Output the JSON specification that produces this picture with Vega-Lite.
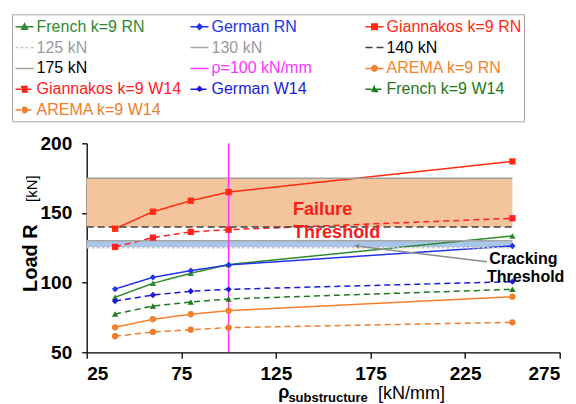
{
  "$schema": "https://vega.github.io/schema/vega-lite/v6.json",
  "width": 473,
  "height": 209,
  "autosize": "none",
  "padding": {"left": 86.7, "top": 143.3, "right": 16.3, "bottom": 51.7},
  "config": {
    "view": {"stroke": null},
    "font": "Liberation Sans",
    "axis": {"grid": false, "domainColor": "#000", "domainWidth": 1.3, "tickColor": "#000", "tickWidth": 1.3, "tickSize": 5, "labelFont": "Liberation Sans", "labelFontSize": 19, "labelFontWeight": "bold", "labelColor": "#000", "title": null}
  },
  "datasets": {
    "lines": [
      {"series": "French k=9 RN", "kind": "data", "x": 40, "y": 89.5},
      {"series": "French k=9 RN", "kind": "data", "x": 60, "y": 99.5},
      {"series": "French k=9 RN", "kind": "data", "x": 80, "y": 106.7},
      {"series": "French k=9 RN", "kind": "data", "x": 100, "y": 113},
      {"series": "French k=9 RN", "kind": "data", "x": 250, "y": 133.5},
      {"series": "German RN", "kind": "data", "x": 40, "y": 95.4},
      {"series": "German RN", "kind": "data", "x": 60, "y": 103.8},
      {"series": "German RN", "kind": "data", "x": 80, "y": 108.6},
      {"series": "German RN", "kind": "data", "x": 100, "y": 112.7},
      {"series": "German RN", "kind": "data", "x": 250, "y": 126.3},
      {"series": "Giannakos k=9 RN", "kind": "data", "x": 40, "y": 138.7},
      {"series": "Giannakos k=9 RN", "kind": "data", "x": 60, "y": 150.9},
      {"series": "Giannakos k=9 RN", "kind": "data", "x": 80, "y": 158.8},
      {"series": "Giannakos k=9 RN", "kind": "data", "x": 100, "y": 165},
      {"series": "Giannakos k=9 RN", "kind": "data", "x": 250, "y": 187},
      {"series": "AREMA k=9 RN", "kind": "data", "x": 40, "y": 67.9},
      {"series": "AREMA k=9 RN", "kind": "data", "x": 60, "y": 73.7},
      {"series": "AREMA k=9 RN", "kind": "data", "x": 80, "y": 77.3},
      {"series": "AREMA k=9 RN", "kind": "data", "x": 100, "y": 79.9},
      {"series": "AREMA k=9 RN", "kind": "data", "x": 250, "y": 89.9},
      {"series": "Giannakos k=9 W14", "kind": "data", "x": 40, "y": 125.6},
      {"series": "Giannakos k=9 W14", "kind": "data", "x": 60, "y": 132.3},
      {"series": "Giannakos k=9 W14", "kind": "data", "x": 80, "y": 136.4},
      {"series": "Giannakos k=9 W14", "kind": "data", "x": 100, "y": 138},
      {"series": "Giannakos k=9 W14", "kind": "data", "x": 250, "y": 146.2},
      {"series": "German W14", "kind": "data", "x": 40, "y": 86.8},
      {"series": "German W14", "kind": "data", "x": 60, "y": 91.1},
      {"series": "German W14", "kind": "data", "x": 80, "y": 93.8},
      {"series": "German W14", "kind": "data", "x": 100, "y": 95.2},
      {"series": "German W14", "kind": "data", "x": 250, "y": 100.7},
      {"series": "French k=9 W14", "kind": "data", "x": 40, "y": 77.5},
      {"series": "French k=9 W14", "kind": "data", "x": 60, "y": 83.2},
      {"series": "French k=9 W14", "kind": "data", "x": 80, "y": 86.1},
      {"series": "French k=9 W14", "kind": "data", "x": 100, "y": 88.3},
      {"series": "French k=9 W14", "kind": "data", "x": 250, "y": 95.2},
      {"series": "AREMA k=9 W14", "kind": "data", "x": 40, "y": 61.5},
      {"series": "AREMA k=9 W14", "kind": "data", "x": 60, "y": 64.6},
      {"series": "AREMA k=9 W14", "kind": "data", "x": 80, "y": 66.2},
      {"series": "AREMA k=9 W14", "kind": "data", "x": 100, "y": 67.7},
      {"series": "AREMA k=9 W14", "kind": "data", "x": 250, "y": 71.5},
      {"series": "125 kN", "kind": "ref", "x": 25, "y": 125},
      {"series": "125 kN", "kind": "ref", "x": 250, "y": 125},
      {"series": "130 kN", "kind": "ref", "x": 25, "y": 130},
      {"series": "130 kN", "kind": "ref", "x": 250, "y": 130},
      {"series": "140 kN", "kind": "ref", "x": 25, "y": 140},
      {"series": "140 kN", "kind": "ref", "x": 250, "y": 140},
      {"series": "175 kN", "kind": "ref", "x": 25, "y": 175},
      {"series": "175 kN", "kind": "ref", "x": 250, "y": 175},
      {"series": "ρ=100 kN/mm", "kind": "ref", "x": 100, "y": 50},
      {"series": "ρ=100 kN/mm", "kind": "ref", "x": 100, "y": 200}
    ],
    "bands": [
      {"x": 25, "x2": 250, "y": 140, "y2": 175, "band": "failure"},
      {"x": 25, "x2": 250, "y": 125.5, "y2": 130, "band": "cracking"}
    ],
    "labels": [
      {"x": 134.1, "y": 148.6, "text": "Failure", "group": "fail"},
      {"x": 134.1, "y": 131.8, "text": "Threshold", "group": "fail"},
      {"x": 237.7, "y": 113.4, "text": "Cracking", "group": "crack"},
      {"x": 236.6, "y": 100.7, "text": "Threshold", "group": "crack"}
    ],
    "arrow": [
      {"x": 236.5, "y": 115, "x2": 167.6, "y2": 126.3}
    ]
  },
  "layer": [
    {
      "data": {"name": "bands"},
      "mark": {"type": "rect"},
      "encoding": {
        "x": {"field": "x", "type": "quantitative", "scale": {"domain": [25, 275], "nice": false, "zero": false}, "axis": {"values": [25, 75, 125, 175, 225, 275], "labelPadding": 6, "tickSize": 6}},
        "x2": {"field": "x2"},
        "y": {"field": "y", "type": "quantitative", "scale": {"domain": [50, 200], "nice": false, "zero": false}, "axis": {"values": [50, 75, 100, 125, 150, 175, 200], "labelPadding": 10}},
        "y2": {"field": "y2"},
        "fill": {"field": "band", "type": "nominal", "scale": {"domain": ["failure", "cracking"], "range": ["#f4c49c", "#aac5ea"]}, "legend": null}
      }
    },
    {
      "data": {"name": "lines"},
      "mark": {"type": "line"},
      "encoding": {
        "x": {"field": "x", "type": "quantitative"},
        "y": {"field": "y", "type": "quantitative"},
        "detail": {"field": "series"},
        "color": {
          "field": "series", "type": "nominal",
          "scale": {
            "domain": ["French k=9 RN", "German RN", "Giannakos k=9 RN", "125 kN", "130 kN", "140 kN", "175 kN", "ρ=100 kN/mm", "AREMA k=9 RN", "Giannakos k=9 W14", "German W14", "French k=9 W14", "AREMA k=9 W14"],
            "range": ["#2f8a2f", "#2233ee", "#ff2a10", "#c8c8c8", "#a6a6a6", "#404040", "#a0a0a0", "#ff33ff", "#f4822c", "#ff2020", "#1a1ad8", "#1e7a1e", "#ee7d2d"]
          },
          "legend": {
            "title": null,
            "orient": "none",
            "legendX": -74.7,
            "legendY": -129,
            "columns": 3,
            "direction": "horizontal",
            "gridAlign": "all",
            "columnPadding": 6,
            "rowPadding": 2.8,
            "padding": 2.5,
            "strokeColor": "#a6a6a6",
            "fillColor": "#ffffff",
            "symbolSize": 324,
            "symbolStrokeWidth": 1.5,
            "labelFont": "Liberation Sans",
            "labelFontSize": 16,
            "labelOffset": 2,
            "labelLimit": 300,
            "encode": {
              "symbols": {
                "update": {
                  "shape": {"signal": "indexof(datum.value,'French')>=0 ? 'M-1,0H1M-0.32,0.26L0,-0.32L0.32,0.26Z' : indexof(datum.value,'German')>=0 ? 'M-1,0H1M0,-0.3L0.3,0L0,0.3L-0.3,0Z' : indexof(datum.value,'Giannakos')>=0 ? 'M-1,0H1M-0.3,-0.3H0.3V0.3H-0.3Z' : indexof(datum.value,'AREMA')>=0 ? 'M-1,0H1M0.3,0A0.3,0.3,0,1,1,-0.3,0A0.3,0.3,0,1,1,0.3,0Z' : 'M-1,0H1'"},
                  "fill": {"scale": "color", "field": "value"},
                  "stroke": {"scale": "color", "field": "value"},
                  "strokeWidth": {"value": 1.5},
                  "opacity": {"value": 1}
                }
              },
              "labels": {
                "update": {
                  "fill": {"signal": "datum.value === '140 kN' || datum.value === '175 kN' ? '#000000' : (datum.value === '125 kN' || datum.value === '130 kN') ? '#9a9a9a' : scale('color', datum.value)"}
                }
              }
            }
          }
        },
        "strokeDash": {
          "field": "series", "type": "nominal",
          "scale": {
            "domain": ["French k=9 RN", "German RN", "Giannakos k=9 RN", "125 kN", "130 kN", "140 kN", "175 kN", "ρ=100 kN/mm", "AREMA k=9 RN", "Giannakos k=9 W14", "German W14", "French k=9 W14", "AREMA k=9 W14"],
            "range": [[1, 0], [1, 0], [1, 0], [3, 2], [1, 0], [7, 4], [1, 0], [1, 0], [1, 0], [6, 4], [6, 4], [6, 4], [6, 4]]
          }
        },
        "strokeWidth": {
          "field": "series", "type": "nominal",
          "scale": {
            "domain": ["French k=9 RN", "German RN", "Giannakos k=9 RN", "125 kN", "130 kN", "140 kN", "175 kN", "ρ=100 kN/mm", "AREMA k=9 RN", "Giannakos k=9 W14", "German W14", "French k=9 W14", "AREMA k=9 W14"],
            "range": [1.5, 1.5, 2.5, 1, 1.5, 1.3, 1.5, 1, 1.5, 2, 2, 2, 2]
          },
          "legend": null
        }
      }
    },
    {
      "data": {"name": "lines"},
      "transform": [{"filter": "datum.kind === 'data'"}],
      "mark": {"type": "point", "filled": true, "opacity": 1},
      "encoding": {
        "x": {"field": "x", "type": "quantitative"},
        "y": {"field": "y", "type": "quantitative"},
        "color": {"field": "series", "type": "nominal"},
        "shape": {
          "field": "series", "type": "nominal",
          "scale": {
            "domain": ["French k=9 RN", "German RN", "Giannakos k=9 RN", "AREMA k=9 RN", "Giannakos k=9 W14", "German W14", "French k=9 W14", "AREMA k=9 W14"],
            "range": ["triangle-up", "diamond", "square", "circle", "square", "diamond", "triangle-up", "circle"]
          },
          "legend": null
        },
        "size": {"value": 40}
      }
    },
    {
      "data": {"name": "arrow"},
      "mark": {"type": "rule", "color": "#8c8c8c", "strokeWidth": 1.5},
      "encoding": {
        "x": {"field": "x", "type": "quantitative"},
        "y": {"field": "y", "type": "quantitative"},
        "x2": {"field": "x2"},
        "y2": {"field": "y2"}
      }
    },
    {
      "data": {"name": "arrow"},
      "mark": {"type": "point", "shape": "triangle-left", "filled": true, "color": "#8c8c8c", "opacity": 1, "size": 30, "angle": 6.8},
      "encoding": {
        "x": {"field": "x2", "type": "quantitative"},
        "y": {"field": "y2", "type": "quantitative"}
      }
    },
    {
      "data": {"name": "labels"},
      "mark": {"type": "text", "align": "left", "baseline": "alphabetic", "fontWeight": "bold", "font": "Liberation Sans"},
      "encoding": {
        "x": {"field": "x", "type": "quantitative"},
        "y": {"field": "y", "type": "quantitative"},
        "text": {"field": "text"},
        "color": {"condition": {"test": "datum.group === 'fail'", "value": "#ff1a1a"}, "value": "#000000"},
        "size": {"condition": {"test": "datum.group === 'fail'", "value": 18}, "value": 16}
      }
    },
    {
      "data": {"values": [
        {"x": 126.2, "y": 17.2, "text": "ρ", "part": "rho"},
        {"x": 131.6, "y": 14.3, "text": "substructure", "part": "sub"}
      ]},
      "mark": {"type": "text", "align": "left", "baseline": "alphabetic", "font": "Liberation Sans", "fontWeight": "bold", "color": "#000"},
      "encoding": {
        "x": {"field": "x", "type": "quantitative"},
        "y": {"field": "y", "type": "quantitative"},
        "text": {"field": "text"},
        "size": {"condition": {"test": "datum.part === 'rho'", "value": 18}, "value": 13}
      }
    },
    {
      "data": {"values": [
        {"x": 179.0, "y": 16.5, "text": "[kN/mm]"}
      ]},
      "mark": {"type": "text", "align": "left", "baseline": "alphabetic", "font": "Liberation Sans", "fontWeight": "normal", "fontSize": 18, "color": "#000"},
      "encoding": {
        "x": {"field": "x", "type": "quantitative"},
        "y": {"field": "y", "type": "quantitative"},
        "text": {"field": "text"}
      }
    },
    {
      "data": {"values": [
        {"x": -1.25, "y": 93.3, "text": "Load R"}
      ]},
      "mark": {"type": "text", "align": "left", "baseline": "alphabetic", "angle": 270, "font": "Liberation Sans", "fontWeight": "bold", "fontSize": 20, "color": "#000"},
      "encoding": {
        "x": {"field": "x", "type": "quantitative"},
        "y": {"field": "y", "type": "quantitative"},
        "text": {"field": "text"}
      }
    },
    {
      "data": {"values": [
        {"x": -1.25, "y": 157.9, "text": "[kN]"}
      ]},
      "mark": {"type": "text", "align": "left", "baseline": "alphabetic", "angle": 270, "font": "Liberation Sans", "fontWeight": "normal", "fontSize": 15, "color": "#000"},
      "encoding": {
        "x": {"field": "x", "type": "quantitative"},
        "y": {"field": "y", "type": "quantitative"},
        "text": {"field": "text"}
      }
    }
  ]
}
